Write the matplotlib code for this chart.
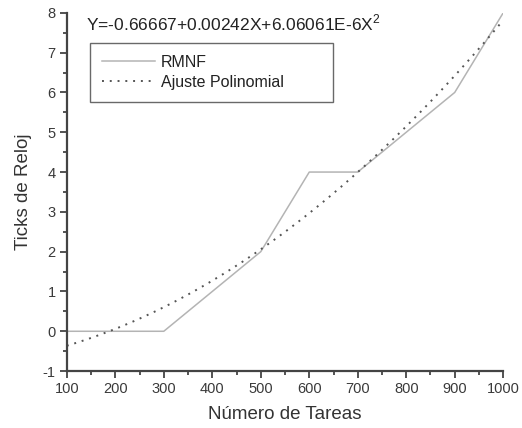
import numpy as np
import matplotlib
matplotlib.use('Agg')
import matplotlib.pyplot as plt
from matplotlib.ticker import MultipleLocator

plt.rcParams['font.family'] = ['Liberation Sans', 'DejaVu Sans']
plt.rcParams['axes.unicode_minus'] = False
plt.rcParams['mathtext.fontset'] = 'custom'
plt.rcParams['mathtext.rm'] = 'Liberation Sans'

# Measured clock ticks per number of tasks
tareas = [100, 200, 300, 400, 500, 600, 700, 800, 900, 1000]
ticks_rmnf = [0, 0, 0, 1, 2, 4, 4, 5, 6, 8]

# Quadratic fit coefficients: Y = a0 + a1*X + a2*X^2
coef = [-0.66667, 0.00242, 6.06061e-6]


def draw_graph():
    fig = plt.figure(figsize=(5.22, 4.28), dpi=100)
    ax = fig.add_axes([0.128, 0.133, 0.836, 0.837])

    x_fit = np.linspace(tareas[0], tareas[-1], 200)
    y_fit = coef[0] + coef[1] * x_fit + coef[2] * x_fit ** 2

    ax.plot(tareas, ticks_rmnf, color='#b4b4b4', lw=1.1, label='RMNF')
    ax.plot(x_fit, y_fit, color='#555555', lw=1.4, ls=(0, (1, 3)),
            label='Ajuste Polinomial')

    ax.set_xlim(100, 1000)
    ax.set_ylim(-1, 8)
    ax.xaxis.set_major_locator(MultipleLocator(100))
    ax.xaxis.set_minor_locator(MultipleLocator(50))
    ax.yaxis.set_major_locator(MultipleLocator(1))
    ax.yaxis.set_minor_locator(MultipleLocator(0.5))

    for side in ('top', 'right'):
        ax.spines[side].set_visible(False)
    for side in ('left', 'bottom'):
        ax.spines[side].set_color('#444444')
        ax.spines[side].set_linewidth(1.6)
    ax.tick_params(which='major', length=5, width=1.3, color='#444444',
                   labelsize=10.5, labelcolor='#3a3a3a', pad=3)
    ax.tick_params(which='minor', length=3, width=1.3, color='#444444')

    ax.set_xlabel('Número de Tareas', fontsize=13.5, color='#333333',
                  labelpad=7)
    ax.set_ylabel('Ticks de Reloj', fontsize=13.5, color='#333333',
                  labelpad=8)

    ax.text(0.043, 1.0, r'Y=-0.66667+0.00242X+6.06061E-6X$^{\mathrm{2}}$',
            transform=ax.transAxes, fontsize=12.5, color='#222222',
            va='top', ha='left')

    leg = ax.legend(loc='upper left',
                    bbox_to_anchor=(0.053, 0.765, 0.557, 0.151),
                    mode='expand', fontsize=11.5, frameon=True,
                    fancybox=False, edgecolor='#444444', handlelength=3.3,
                    handletextpad=0.4, borderpad=0.75, labelspacing=0.3,
                    borderaxespad=0)
    leg.get_frame().set_linewidth(1.0)
    for t in leg.get_texts():
        t.set_color('#222222')

    fig.savefig('out.png', dpi=100)


if __name__ == '__main__':
    draw_graph()
